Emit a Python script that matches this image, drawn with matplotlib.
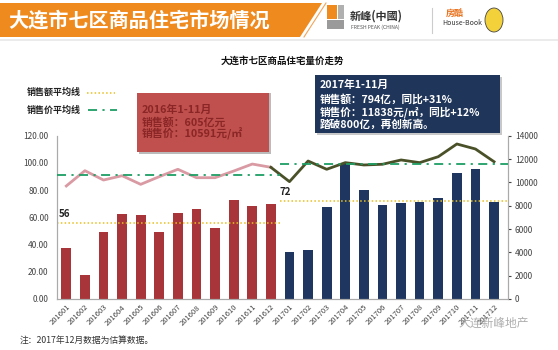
import matplotlib
matplotlib.use('Agg')
import matplotlib.pyplot as plt
from matplotlib.patches import Polygon, Rectangle, Ellipse
from matplotlib.lines import Line2D

plt.rcParams['font.family'] = ['Noto Sans CJK SC', 'DejaVu Sans']

# data
months = ['201601', '201602', '201603', '201604', '201605', '201606',
          '201607', '201608', '201609', '201610', '201611', '201612',
          '201701', '201702', '201703', '201704', '201705', '201706',
          '201707', '201708', '201709', '201710', '201711', '201712']
sales_2016 = [37.6, 17.4, 49.6, 62.4, 61.4, 49.2, 62.9, 65.8, 52.3, 72.6, 68.5, 70.0]
sales_2017 = [34.8, 36.2, 67.8, 99.5, 80.0, 68.8, 70.8, 71.3, 74.0, 92.6, 95.5, 71.5]
price_2016 = [9690, 11000, 10200, 10570, 9830, 10490, 11120, 10400, 10400, 10970, 11570, 11290]
price_2017 = [10060, 11830, 11120, 11690, 11490, 11550, 11920, 11690, 12200, 13290, 12860, 11770]
avg_sales = [56, 72]
avg_price = [10650, 11600]

W, H = 558, 350
fig = plt.figure(figsize=(W / 100, H / 100), dpi=100)
fig.patch.set_facecolor('white')

def fx(x):
    return x / W

def fy(y):
    return 1 - y / H

# banner
fig.patches.append(Polygon([(fx(0), fy(3)), (fx(322), fy(3)), (fx(300), fy(37)), (fx(0), fy(37))],
                           closed=True, transform=fig.transFigure, facecolor='#EE8A1E', edgecolor='none'))
fig.lines.append(Line2D([fx(326), fx(304)], [fy(3), fy(37)], transform=fig.transFigure,
                        color='#F2A55A', lw=0.8))
fig.lines.append(Line2D([fx(0), fx(558)], [fy(40), fy(40)], transform=fig.transFigure,
                        color='#E8E8E8', lw=1.2))
fig.text(fx(8), fy(20), '大连市七区商品住宅市场情况', color='white', fontsize=14.5,
         fontweight='bold', va='center', ha='left')

# logos
fig.patches.append(Rectangle((fx(327), fy(19)), fx(10), 14 / H, transform=fig.transFigure,
                             facecolor='#EE8A1E', edgecolor='none'))
fig.patches.append(Rectangle((fx(338), fy(19)), fx(6), 14 / H, transform=fig.transFigure,
                             facecolor='#B0B0B0', edgecolor='none'))
fig.patches.append(Rectangle((fx(327), fy(29)), fx(17), 9 / H, transform=fig.transFigure,
                             facecolor='#9A9A9A', edgecolor='none'))
fig.text(fx(350), fy(16), '新峰(中國)', fontsize=8, fontweight='bold', color='#333333',
         va='center', ha='left')
fig.text(fx(351), fy(27), 'FRESH PEAK (CHINA)', fontsize=3.6, color='#555555', va='center', ha='left')
fig.lines.append(Line2D([fx(432), fx(432)], [fy(8), fy(33)], transform=fig.transFigure,
                        color='#CCCCCC', lw=0.8))
fig.text(fx(446), fy(13), '房酷', fontsize=6.5, fontweight='bold', color='#E8731E', va='center', ha='left')
fig.text(fx(442), fy(23), 'House-Book', fontsize=5, color='#333333', va='center', ha='left')
fig.patches.append(Ellipse((fx(494), fy(20)), 18 / W, 24 / H, transform=fig.transFigure,
                           facecolor='#F2D13A', edgecolor='#444444', lw=0.6))

# chart title
fig.text(fx(282), fy(61), '大连市七区商品住宅量价走势', fontsize=6.8, fontweight='bold',
         color='#111111', ha='center', va='center')

# axes
ax = fig.add_axes([fx(57), fy(299), fx(508) - fx(57), (299 - 135.7) / H])
ax2 = ax.twinx()
x16 = list(range(12))
x17 = list(range(12, 24))
ax.bar(x16, sales_2016, width=0.52, color='#A8353A', zorder=2)
ax.bar(x17, sales_2017, width=0.52, color='#1F3760', zorder=2)
ax.hlines(avg_sales[0], -0.5, 11.5, colors='#E8C020', linestyles=(0, (1, 1.5)), lw=1.1, zorder=3)
ax.hlines(avg_sales[1], 11.5, 23.75, colors='#E8C020', linestyles=(0, (1, 1.5)), lw=1.1, zorder=3)
ax.text(-0.1, avg_sales[0] + 3, str(avg_sales[0]), fontsize=7, fontweight='bold', color='#222222',
        ha='center', va='bottom')
ax.text(11.75, avg_sales[1] + 3, str(avg_sales[1]), fontsize=7, fontweight='bold', color='#222222',
        ha='center', va='bottom')
ax.set_ylim(0, 120)
ax.set_xlim(-0.5, 23.75)
ax.set_yticks(range(0, 121, 20))
ax.set_yticklabels(['%.2f' % v for v in range(0, 121, 20)])
ax.set_xticks(range(24))
ax.set_xticklabels(months, rotation=45, ha='right', rotation_mode='anchor')
ax.tick_params(axis='x', labelsize=5.5, colors='#444444', length=0, pad=3)
ax.tick_params(axis='y', labelsize=6, colors='#444444', length=0, pad=6)

ax2.plot(x16, price_2016, color='#D99AA3', lw=2.0, zorder=4)
ax2.plot([11] + x17, [price_2016[-1]] + price_2017, color='#4A5128', lw=2.0, zorder=4)
ax2.hlines(avg_price[0], -0.5, 11.5, colors='#1E9E64', linestyles=(0, (5, 3, 1.2, 3)), lw=1.3, zorder=5)
ax2.hlines(avg_price[1], 11.5, 23.75, colors='#1E9E64', linestyles=(0, (5, 3, 1.2, 3)), lw=1.3, zorder=5)
ax2.set_ylim(0, 14000)
ax2.set_yticks(range(0, 14001, 2000))
ax2.tick_params(axis='y', labelsize=6, colors='#444444', length=2, pad=3)

for a in (ax, ax2):
    a.spines['top'].set_visible(False)
    for s in ('left', 'right', 'bottom'):
        a.spines[s].set_color('#AAAAAA')
        a.spines[s].set_linewidth(0.8)
    a.patch.set_alpha(0)

# legend at top left
fig.text(fx(27), fy(92.5), '销售额平均线', fontsize=6.5, fontweight='bold', color='#222222',
         ha='left', va='center')
fig.lines.append(Line2D([fx(87), fx(115)], [fy(92.5), fy(92.5)], transform=fig.transFigure,
                        color='#E8C020', lw=1.1, linestyle=(0, (1, 1.5))))
fig.text(fx(27), fy(110), '销售价平均线', fontsize=6.5, fontweight='bold', color='#222222',
         ha='left', va='center')
fig.lines.append(Line2D([fx(88), fx(117)], [fy(110), fy(110)], transform=fig.transFigure,
                        color='#1E9E64', lw=1.3, linestyle=(0, (5, 3, 1.2, 3))))

# red note box (2016)
fig.patches.append(Rectangle((fx(139), fy(154)), (269 - 137) / W, (154 - 93) / H,
                             transform=fig.transFigure, facecolor='#BBBBBB', edgecolor='none', zorder=8))
fig.patches.append(Rectangle((fx(137), fy(152)), (269 - 137) / W, (152 - 93) / H,
                             transform=fig.transFigure, facecolor='#C0504D', edgecolor='none', zorder=9))
for yy, t in [(110, '2016年1-11月'), (122, '销售额：605亿元'), (133.5, '销售价：10591元/㎡')]:
    fig.text(fx(142), fy(yy), t, fontsize=7.8, fontweight='bold', color='#8A2626',
             ha='left', va='center', zorder=10)

# blue note box (2017)
fig.patches.append(Rectangle((fx(317), fy(135)), (500 - 315) / W, (133 - 75) / H,
                             transform=fig.transFigure, facecolor='#C8C8C8', edgecolor='none', zorder=8))
fig.patches.append(Rectangle((fx(315), fy(133)), (500 - 315) / W, (133 - 75) / H,
                             transform=fig.transFigure, facecolor='#1F3559', edgecolor='none', zorder=9))
for yy, t in [(84.5, '2017年1-11月'), (99, '销售额：794亿，同比+31%'),
              (112, '销售价：11838元/㎡，同比+12%'), (125, '踏破800亿，再创新高。')]:
    fig.text(fx(320), fy(yy), t, fontsize=7.7, fontweight='bold', color='white',
             ha='left', va='center', zorder=10)

# footer
fig.text(fx(20), fy(341), '注：2017年12月数据为估算数据。', fontsize=6.3, color='#333333',
         ha='left', va='center')
fig.text(fx(458), fy(323), '大连新峰地产', fontsize=8.5, color='#9A9A9A', alpha=0.8,
         ha='left', va='center')

fig.savefig('out.png', dpi=100)
